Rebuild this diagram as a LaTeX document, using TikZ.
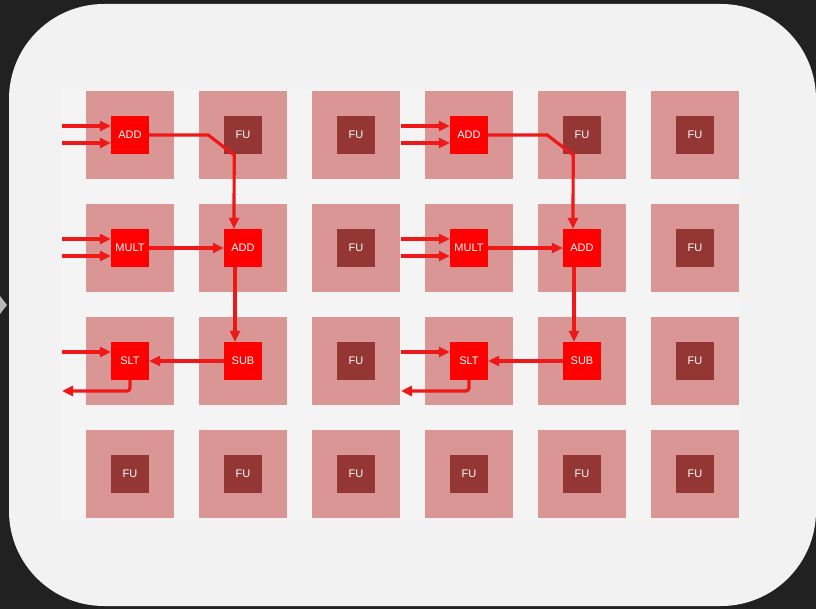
\documentclass[tikz,border=0pt]{standalone}
\usepackage{fontspec}
\setmainfont{Liberation Sans}
\usetikzlibrary{arrows.meta}
\definecolor{bgdark}{HTML}{212121}
\definecolor{panel}{HTML}{F2F2F2}
\definecolor{gridbg}{HTML}{F5F4F4}
\definecolor{tile}{HTML}{D99695}
\definecolor{idlefu}{HTML}{943634}
\definecolor{activefu}{HTML}{FF0000}
\definecolor{wirered}{HTML}{EE1818}
\begin{document}
\begin{tikzpicture}[x=1pt,y=-1pt,
  tilebox/.style={fill=tile, minimum size=88pt, inner sep=0pt},
  fu/.style={fill=idlefu, text=white, minimum size=38pt, inner sep=0pt, font=\fontsize{11}{11}\selectfont},
  op/.style={fu, fill=activefu},
  wire/.style={draw=wirered, line width=3.2pt, -{Triangle[length=11pt,width=10pt]}}]
\useasboundingbox (0,0) rectangle (816,609);
\fill[bgdark] (0,0) rectangle (816,609);
\fill[panel, rounded corners=95pt] (9,4) rectangle (816,606);
\fill[gray!55] (0,296) -- (7,305) -- (0,314) -- cycle;
\fill[gridbg] (62,90) rectangle (740,520);
% tiles
\foreach \c in {1,...,6}
  \foreach \r in {1,...,4}
    \node[tilebox] (t\c\r) at ({17+113*\c},{22+113*\r}) {};
\foreach \c/\r in {2/1,3/1,5/1,6/1,3/2,6/2,3/3,6/3,1/4,2/4,3/4,4/4,5/4,6/4}
  \node[fu] (f\c\r) at (t\c\r) {FU};
% left mapping
\node[op] (addA) at (t11) {ADD};
\node[op] (multA) at (t12) {MULT};
\node[op] (addB) at (t22) {ADD};
\node[op] (sltA) at (t13) {SLT};
\node[op] (subA) at (t23) {SUB};
% right mapping
\node[op] (addC) at (t41) {ADD};
\node[op] (multB) at (t42) {MULT};
\node[op] (addD) at (t52) {ADD};
\node[op] (sltB) at (t43) {SLT};
\node[op] (subB) at (t53) {SUB};
\coordinate (inA1) at (62,126);
\coordinate (inA2) at (62,143);
\coordinate (inA3) at (62,239);
\coordinate (inA4) at (62,256);
\coordinate (inA5) at (62,352);
\coordinate (outA) at (62,391);
\coordinate (inB1) at (401,126);
\coordinate (inB2) at (401,143);
\coordinate (inB3) at (401,239);
\coordinate (inB4) at (401,256);
\coordinate (inB5) at (401,352);
\coordinate (outB) at (401,391);
\draw[wire] (inA1) -- (inA1 -| addA.west);
\draw[wire] (inA2) -- (inA2 -| addA.west);
\draw[wire] (inA3) -- (inA3 -| multA.west);
\draw[wire] (inA4) -- (inA4 -| multA.west);
\draw[wire] (inA5) -- (inA5 -| sltA.west);
\draw[wire] (addA.east) -- ++(59,0) -- ++(26,20) -- ([xshift=-9pt]addB.north);
\draw[wire] (multA.east) -- (addB.west);
\draw[wire] ([xshift=-8pt]addB.south) -- ([xshift=-8pt]subA.north);
\draw[wire] (subA.west) -- (sltA.east);
\draw[wire, rounded corners=3pt] (sltA.south) |- (outA);
\draw[wire] (inB1) -- (inB1 -| addC.west);
\draw[wire] (inB2) -- (inB2 -| addC.west);
\draw[wire] (inB3) -- (inB3 -| multB.west);
\draw[wire] (inB4) -- (inB4 -| multB.west);
\draw[wire] (inB5) -- (inB5 -| sltB.west);
\draw[wire] (addC.east) -- ++(59,0) -- ++(26,20) -- ([xshift=-9pt]addD.north);
\draw[wire] (multB.east) -- (addD.west);
\draw[wire] ([xshift=-8pt]addD.south) -- ([xshift=-8pt]subB.north);
\draw[wire] (subB.west) -- (sltB.east);
\draw[wire, rounded corners=3pt] (sltB.south) |- (outB);
\end{tikzpicture}
\end{document}
